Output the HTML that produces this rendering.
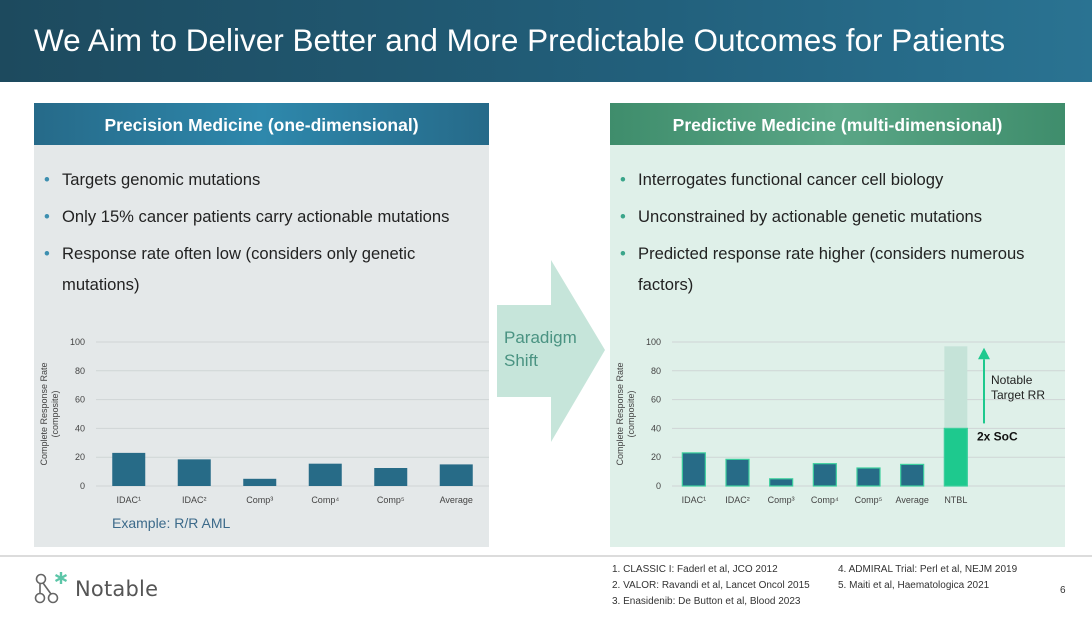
<!DOCTYPE html>
<html><head><meta charset="utf-8">
<style>
*{margin:0;padding:0;box-sizing:border-box}
body{width:1092px;height:618px;position:relative;background:#fff;font-family:"Liberation Sans",sans-serif;overflow:hidden}
.abs{position:absolute}
#title-bar{left:0;top:0;width:1092px;height:82px;background:linear-gradient(90deg,#1d4a5e 0%,#22607c 60%,#2a7392 100%)}
#title{left:34px;top:22px;color:#fff;font-size:31.5px;white-space:nowrap}
.hdr{top:103px;width:455px;height:42px;color:#fff;font-weight:bold;font-size:17.5px;text-align:center;line-height:44px}
.body{top:145px;width:455px;height:402px}
ul{position:absolute;list-style:none;font-size:16.6px;color:#222;line-height:31px}
li{position:relative;padding-left:26px;margin-bottom:6px}
li::before{content:"•";position:absolute;left:8px;color:#3d8fb0}
.grn li::before{color:#3aa58a}
.refs{font-size:10px;color:#333;line-height:16px}
</style></head><body>
<div class="abs" id="title-bar"></div>
<div class="abs" id="title">We Aim to Deliver Better and More Predictable Outcomes for Patients</div>

<div class="abs hdr" style="left:34px;background:linear-gradient(90deg,#266a89,#2e88ac 50%,#266a89)">Precision Medicine (one-dimensional)</div>
<div class="abs body" style="left:34px;background:#e4e8e9"></div>
<ul style="left:36px;top:164px;width:440px">
<li>Targets genomic mutations</li>
<li>Only 15% cancer patients carry actionable mutations</li>
<li>Response rate often low (considers only genetic mutations)</li>
</ul>

<div class="abs hdr" style="left:610px;background:linear-gradient(90deg,#3f8d6c,#5aa686 50%,#3f8d6c)">Predictive Medicine (multi-dimensional)</div>
<div class="abs body" style="left:610px;background:#dff0e9"></div>
<ul class="grn" style="left:612px;top:164px;width:445px">
<li>Interrogates functional cancer cell biology</li>
<li>Unconstrained by actionable genetic mutations</li>
<li>Predicted response rate higher (considers numerous factors)</li>
</ul>

<svg class="abs" style="left:0;top:0" width="1092" height="618">
<polygon points="497,305 551,305 551,260 605,350 551,442 551,397 497,397" fill="#c6e5da"/>
<text x="504" y="343" font-size="17" fill="#4a9382" font-family="Liberation Sans">Paradigm</text>
<text x="504" y="366" font-size="17" fill="#4a9382" font-family="Liberation Sans">Shift</text>
<g id="left-chart"></g>
<g id="right-chart"></g>
<text x="112" y="528" font-size="14" fill="#3c6a8a" font-family="Liberation Sans">Example: R/R AML</text>
<line x1="0" y1="556" x2="1092" y2="556" stroke="#d0d0d0" stroke-width="1.5"/>
<g fill="none" stroke="#666" stroke-width="1.6">
<circle cx="41" cy="579" r="4.5"/><circle cx="40" cy="598" r="4.5"/><circle cx="53" cy="598" r="4.5"/>
<line x1="43" y1="583" x2="51" y2="594"/><line x1="40" y1="583" x2="40" y2="594"/>
<g stroke="#5cc6a8" stroke-width="2.4"><line x1="61" y1="572" x2="61" y2="584"/><line x1="55.5" y1="575" x2="66.5" y2="581"/><line x1="55.5" y1="581" x2="66.5" y2="575"/></g>
</g>
<text x="75" y="596" font-size="21" fill="#555" font-family="DejaVu Sans" textLength="83">Notable</text>
<text x="1060" y="593" font-size="10" fill="#333" font-family="Liberation Sans">6</text>
</svg>
<div class="abs refs" style="left:612px;top:562px">1. CLASSIC I: Faderl et al, JCO 2012<br>2. VALOR: Ravandi et al, Lancet Oncol 2015<br>3. Enasidenib: De Button et al, Blood 2023</div>
<div class="abs refs" style="left:838px;top:562px">4. ADMIRAL Trial: Perl et al, NEJM 2019<br>5. Maiti et al, Haematologica 2021</div>

<script>
const leftCats=["IDAC¹","IDAC²","Comp³","Comp⁴","Comp⁵","Average"];
const leftVals=[23,18.5,5,15.5,12.5,15];
const rightCats=["IDAC¹","IDAC²","Comp³","Comp⁴","Comp⁵","Average","NTBL"];
const rightVals=[23,18.5,5,15.5,12.5,15,40];
const ntblTarget=97;
const yTicks=[0,20,40,60,80,100];
const NS="http://www.w3.org/2000/svg";
function mk(tag,attrs,parent){const e=document.createElementNS(NS,tag);for(const k in attrs)e.setAttribute(k,attrs[k]);parent.appendChild(e);return e;}
function drawChart(g,cfg){
  const y=v=>cfg.y0-(v/100)*(cfg.y0-cfg.y100);
  const slot=(cfg.x1-cfg.x0)/cfg.slots;
  const x=i=>cfg.x0+slot*(i+0.5);
  yTicks.forEach(t=>{
    const l=mk('line',{x1:cfg.x0,x2:cfg.x1,y1:y(t),y2:y(t),stroke:'#cfd5d5','stroke-width':1},g);
    
    
    const tx=mk('text',{x:cfg.x0-11,y:y(t)+3,'font-size':9,fill:'#444','text-anchor':'end','font-family':'Liberation Sans'},g);
    tx.textContent=t;
    
    
  });
  const yt=mk('text',{transform:`translate(${cfg.x0-49},${(cfg.y0+cfg.y100)/2}) rotate(-90)`,'font-size':9,fill:'#444','text-anchor':'middle','font-family':'Liberation Sans'},g);
  
  
  const t1=mk('tspan',{x:0,dy:0},yt);t1.textContent='Complete Response Rate';
  const t2=mk('tspan',{x:0,dy:11},yt);t2.textContent='(composite)';
  cfg.cats.forEach((c,i)=>{
    if(cfg.target && i===cfg.cats.length-1){
      const tb=mk('rect',{x:x(i)-cfg.bw/2,y:y(cfg.target),width:cfg.bw,height:y(cfg.vals[i])-y(cfg.target),fill:'#c5e3d8'},g);
      
      
    }
    const hl=cfg.target && i===cfg.cats.length-1;
    const b=mk('rect',{x:x(i)-cfg.bw/2,y:y(cfg.vals[i]),width:cfg.bw,height:y(0)-y(cfg.vals[i]),fill:hl?'#1ec98e':'#276b87',stroke:cfg.stroke||'none','stroke-width':cfg.stroke?1.2:0},g);
    
    
    const lb=mk('text',{x:x(i),y:cfg.y0+17,'font-size':9,fill:'#444','text-anchor':'middle','font-family':'Liberation Sans'},g);
    lb.textContent=c;
    
    
  });
  return {x,y};
}
drawChart(document.getElementById('left-chart'),{x0:96,x1:489,y0:486,y100:342,slots:6,bw:33,cats:leftCats,vals:leftVals});
const r=drawChart(document.getElementById('right-chart'),{x0:672,x1:1065,y0:486,y100:342,slots:9,bw:23,cats:rightCats,vals:rightVals,target:ntblTarget,stroke:'#3ccf9d'});
const rg=document.getElementById('right-chart');
const ax=984;
const al=mk('line',{x1:ax,x2:ax,y1:r.y(rightVals[6])-5,y2:r.y(88),stroke:'#1ec98e','stroke-width':2},rg);


const ah=mk('polygon',{points:`${ax-6},${r.y(88)} ${ax+6},${r.y(88)} ${ax},${r.y(96)}`,fill:'#1ec98e'},rg);


const n1=mk('text',{x:991,y:384,'font-size':12,fill:'#222','font-family':'Liberation Sans'},rg);
n1.textContent='Notable';


const n2=mk('text',{x:991,y:399,'font-size':12,fill:'#222','font-family':'Liberation Sans'},rg);
n2.textContent='Target RR';


const s=mk('text',{x:977,y:r.y(rightVals[6])+12,'font-size':12,'font-weight':'bold',fill:'#111','font-family':'Liberation Sans'},rg);
s.textContent='2x SoC';


</script>
</body></html>
